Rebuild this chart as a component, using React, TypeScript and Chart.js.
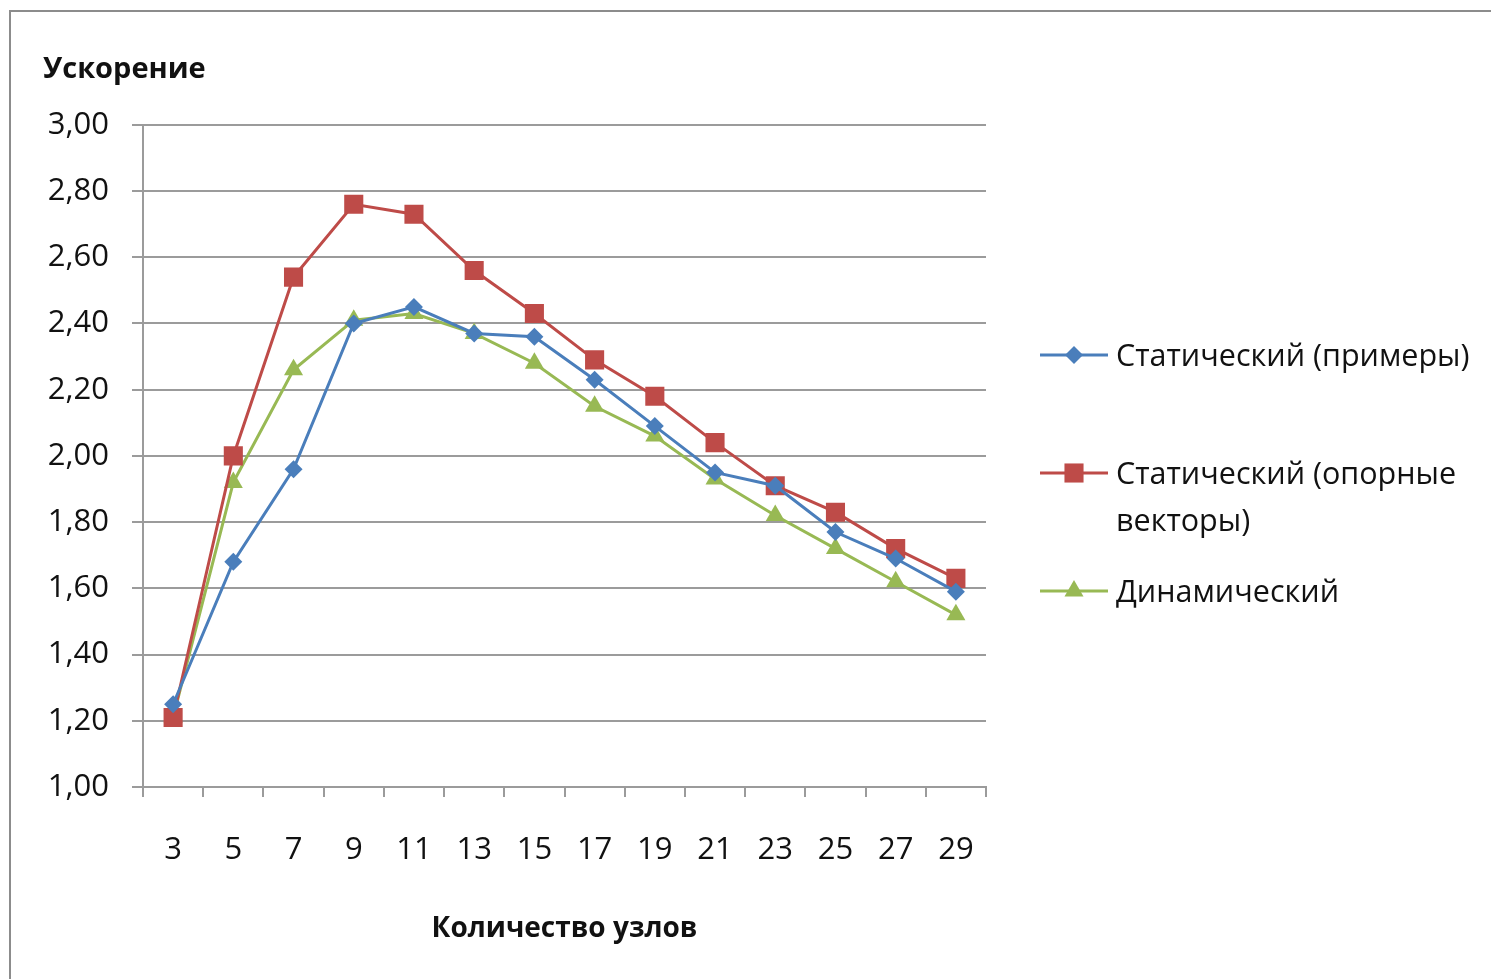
import React, { useEffect, useRef } from "react";
import { Chart, registerables } from "chart.js";

Chart.register(...registerables);

// Number of nodes (x categories)
const nodes = [3, 5, 7, 9, 11, 13, 15, 17, 19, 21, 23, 25, 27, 29];

// Speed-up per method
const staticExamples = [1.25, 1.68, 1.96, 2.4, 2.45, 2.37, 2.36, 2.23, 2.09, 1.95, 1.91, 1.77, 1.69, 1.59];
const staticSupportVectors = [1.21, 2.0, 2.54, 2.76, 2.73, 2.56, 2.43, 2.29, 2.18, 2.04, 1.91, 1.83, 1.72, 1.63];
const dynamicMethod = [1.21, 1.92, 2.26, 2.41, 2.43, 2.37, 2.28, 2.15, 2.06, 1.93, 1.82, 1.72, 1.62, 1.52];

const seriesNames = ["Статический (примеры)", ["Статический (опорные", "векторы)"], "Динамический"];
const yTitle = "Ускорение";
const xTitle = "Количество узлов";

const BLUE = "#4A7EBB";
const RED = "#BE4B48";
const GREEN = "#98B954";
const GRID = "#9b9b9b";
const FONT = "'Open Sans', sans-serif";

function markerPath(ctx: CanvasRenderingContext2D, style: string, x: number, y: number, r: number) {
  ctx.beginPath();
  if (style === "rectRot") {
    ctx.moveTo(x, y - r);
    ctx.lineTo(x + r, y);
    ctx.lineTo(x, y + r);
    ctx.lineTo(x - r, y);
  } else if (style === "rect") {
    const s = Math.SQRT1_2 * r;
    ctx.rect(x - s, y - s, 2 * s, 2 * s);
  } else {
    const w = (r * Math.sqrt(3)) / 2;
    ctx.moveTo(x, y - r);
    ctx.lineTo(x + w, y + r / 2);
    ctx.lineTo(x - w, y + r / 2);
  }
  ctx.closePath();
}

// Legend on the right with a wrapped second label
const sideLegend = {
  id: "sideLegend",
  afterDraw(chart: any) {
    const ctx: CanvasRenderingContext2D = chart.ctx;
    const entries = [
      { color: BLUE, style: "rectRot", r: 9, lines: [seriesNames[0] as string], y: 355 },
      { color: RED, style: "rect", r: 13.5, lines: seriesNames[1] as string[], y: 473 },
      { color: GREEN, style: "triangle", r: 11, lines: [seriesNames[2] as string], y: 591 },
    ];
    ctx.save();
    for (const e of entries) {
      ctx.strokeStyle = e.color;
      ctx.lineWidth = 3;
      ctx.beginPath();
      ctx.moveTo(1040, e.y);
      ctx.lineTo(1108, e.y);
      ctx.stroke();
      ctx.fillStyle = e.color;
      markerPath(ctx, e.style, 1074, e.y, e.r);
      ctx.fill();
      ctx.fillStyle = "#111";
      ctx.font = `30.5px ${FONT}`;
      ctx.textAlign = "left";
      ctx.textBaseline = "middle";
      e.lines.forEach((t, i) => ctx.fillText(t, 1116, e.y + 2 + i * 47));
    }
    ctx.restore();
  },
};

export default function App() {
  const ref = useRef<HTMLCanvasElement>(null);

  useEffect(() => {
    if (!ref.current) return;
    const mk = (label: string, data: number[], color: string, style: string, r: number) => ({
      label,
      data,
      borderColor: color,
      backgroundColor: color,
      borderWidth: 3,
      pointStyle: style,
      pointRadius: r,
      pointHoverRadius: r,
      pointBorderWidth: 0,
      tension: 0,
    });
    const chart = new Chart(ref.current, {
      type: "line",
      data: {
        labels: nodes.map(String),
        datasets: [
          mk("Статический (примеры)", staticExamples, BLUE, "rectRot", 9),
          mk("Статический (опорные векторы)", staticSupportVectors, RED, "rect", 13.5),
          mk("Динамический", dynamicMethod, GREEN, "triangle", 11),
        ],
      },
      options: {
        animation: false,
        responsive: false,
        events: [],
        layout: { padding: { left: 43, right: 505, top: 0, bottom: 0 } },
        plugins: {
          legend: { display: false },
          tooltip: { enabled: false },
          title: {
            display: true,
            text: yTitle,
            align: "start",
            color: "#111",
            font: { family: FONT, size: 29, weight: "bold", lineHeight: 1.2 },
            padding: { top: 52, bottom: 38 },
          },
        },
        scales: {
          x: {
            offset: true,
            grid: {
              offset: true,
              drawOnChartArea: false,
              drawTicks: true,
              tickLength: 10,
              color: GRID,
              lineWidth: 2,
            },
            border: { display: true, color: GRID, width: 2 },
            ticks: {
              color: "#111",
              font: { family: FONT, size: 31 },
              padding: 35,
              maxRotation: 0,
              autoSkip: false,
            },
            title: {
              display: true,
              text: xTitle,
              color: "#111",
              font: { family: FONT, size: 28, weight: "bold", lineHeight: 1.2 },
              padding: { top: 0, bottom: 33 },
            },
            afterFit: (s: any) => {
              s.height = 192;
            },
          },
          y: {
            min: 1,
            max: 3,
            grid: { color: GRID, lineWidth: 2, tickLength: 11, drawTicks: true },
            border: { display: true, color: GRID, width: 2 },
            ticks: {
              stepSize: 0.2,
              color: "#111",
              font: { family: FONT, size: 31 },
              padding: 23,
              callback: (v: any) => Number(v).toFixed(2).replace(".", ","),
            },
            afterFit: (s: any) => {
              s.width = 100;
            },
          },
        },
      },
      plugins: [sideLegend],
    });
    return () => chart.destroy();
  }, []);

  return (
    <div style={{ position: "fixed", left: 0, top: 0, width: 1491, height: 979, background: "#fff" }}>
      <div
        style={{
          position: "absolute",
          left: 9,
          top: 10,
          right: -4,
          bottom: -4,
          borderLeft: "2px solid #8c8c8c",
          borderTop: "2px solid #8c8c8c",
        }}
      />
      <canvas ref={ref} width={1491} height={979} style={{ position: "absolute", left: 0, top: 0 }} />
    </div>
  );
}
